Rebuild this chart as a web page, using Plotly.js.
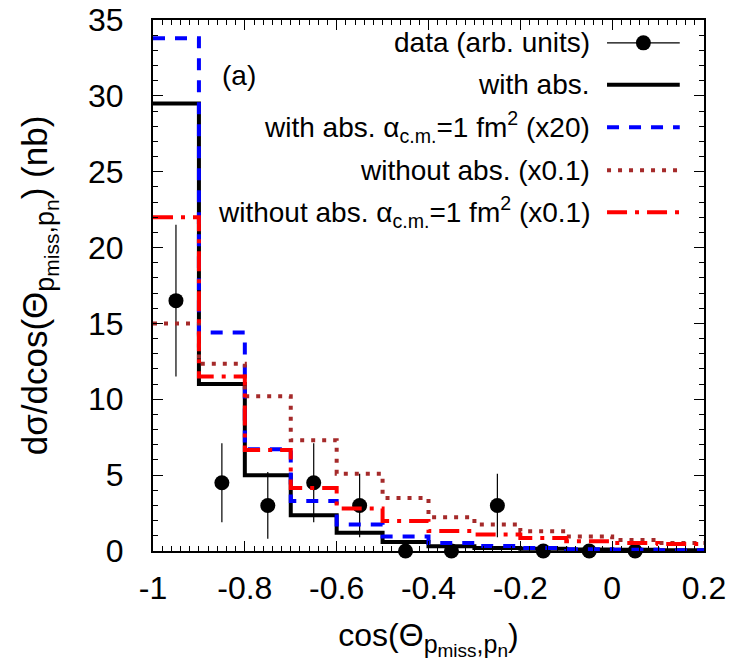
<!DOCTYPE html>
<html>
<head>
<meta charset="utf-8">
<script src="https://cdn.plot.ly/plotly-3.0.1.min.js"></script>
<style>body{margin:0;background:#fff}#chart{width:736px;height:669px}</style>
</head>
<body>
<div id="chart"></div>
<script>
// Bin edges of the histogram (cos theta)
const binEdges = [-1.0, -0.9, -0.8, -0.7, -0.6, -0.5, -0.4, -0.3, -0.2, -0.1, 0.0, 0.1, 0.2];
// Model curves (nb), one value per bin
const withAbs        = [29.5, 11.0, 5.0, 2.35, 1.2, 0.6, 0.32, 0.2, 0.15, 0.1, 0.08, 0.05];
const withAbsAlpha   = [33.8, 14.4, 6.7, 3.3, 1.75, 0.95, 0.53, 0.33, 0.2, 0.11, 0.08, 0.05];
const withoutAbs     = [15.0, 12.35, 10.2, 7.3, 5.1, 3.5, 2.22, 1.74, 1.3, 0.95, 0.73, 0.53];
const withoutAbsAlpha= [22.0, 11.5, 6.65, 4.15, 2.8, 1.97, 1.32, 1.08, 0.86, 0.64, 0.53, 0.46];
// Data points
const dataX   = [-0.95, -0.85, -0.75, -0.65, -0.55, -0.45, -0.35, -0.25, -0.15, -0.05, 0.05];
const dataY   = [16.5, 4.5, 3.0, 4.5, 3.0, 0.0, 0.0, 3.0, 0.0, 0.0, 0.0];
const dataErr = [5.0, 2.6, 2.2, 2.6, 2.1, 0.0, 0.0, 2.1, 0.0, 0.0, 0.0];

const xTicks = [-1, -0.8, -0.6, -0.4, -0.2, 0, 0.2];
const xTickText = ['-1', '-0.8', '-0.6', '-0.4', '-0.2', '0', '0.2'];
const yTicks = [0, 5, 10, 15, 20, 25, 30, 35];

function steps(vals) { return vals.concat([vals[vals.length - 1]]); }

const FONT = 'Liberation Sans, Arial, sans-serif';

const traces = [
  { x: dataX, y: dataY, type: 'scatter', mode: 'markers',
    marker: { color: 'black', size: 15 },
    error_y: { type: 'data', array: dataErr, visible: true, color: 'black', thickness: 1.2, width: 0 },
    showlegend: false, cliponaxis: false },
  { x: binEdges, y: steps(withAbs), type: 'scatter', mode: 'lines',
    line: { shape: 'hv', color: 'black', width: 4 }, showlegend: false },
  { x: binEdges, y: steps(withAbsAlpha), type: 'scatter', mode: 'lines',
    line: { shape: 'hv', color: '#0000ff', width: 4, dash: '12px,10px' }, showlegend: false },
  { x: binEdges, y: steps(withoutAbs), type: 'scatter', mode: 'lines',
    line: { shape: 'hv', color: '#a52a2a', width: 4, dash: '4px,7px' }, showlegend: false },
  { x: binEdges, y: steps(withoutAbsAlpha), type: 'scatter', mode: 'lines',
    line: { shape: 'hv', color: '#ff0000', width: 4, dash: '20px,8px,4px,8px' }, showlegend: false }
];

const legText = [
  'data (arb. units)',
  'with abs.',
  'with abs. α<sub>c.m.</sub>=1 fm<sup>2</sup> (x20)',
  'without abs. (x0.1)',
  'without abs. α<sub>c.m.</sub>=1 fm<sup>2</sup> (x0.1)'
];
const legY = [0.957, 0.878, 0.798, 0.717, 0.638];
const legStyle = [
  { color: 'black', width: 1.2, dash: 'solid' },
  { color: 'black', width: 4, dash: 'solid' },
  { color: '#0000ff', width: 4, dash: '12px,10px' },
  { color: '#a52a2a', width: 4, dash: '4px,7px' },
  { color: '#ff0000', width: 4, dash: '20px,8px,4px,8px' }
];

const annotations = legText.map((t, i) => ({
  text: t, xref: 'paper', yref: 'paper', x: 0.797, y: legY[i],
  xanchor: 'right', yanchor: 'middle', showarrow: false,
  font: { family: FONT, size: 28, color: 'black' }
}));
annotations.push({
  text: '(a)', xref: 'paper', yref: 'paper', x: 0.122, y: 0.896,
  xanchor: 'left', yanchor: 'middle', showarrow: false,
  font: { family: FONT, size: 28, color: 'black' }
});

const shapes = legStyle.map((s, i) => ({
  type: 'line', xref: 'paper', yref: 'paper', x0: 0.824, x1: 0.956, y0: legY[i], y1: legY[i],
  line: { color: s.color, width: s.width, dash: s.dash }
}));
shapes.push({
  type: 'circle', xref: 'paper', yref: 'paper', xsizemode: 'pixel', ysizemode: 'pixel',
  xanchor: 0.89, yanchor: legY[0], x0: -7.5, x1: 7.5, y0: -7.5, y1: 7.5,
  fillcolor: 'black', line: { color: 'black', width: 0 }
});

function thetaSub(big, small) {
  return '<sub><span style="font-size:' + big + 'px">p</span><sub><span style="font-size:' + small + 'px">miss</span></sub>' +
         '<span style="font-size:' + big + 'px">,p</span><sub><span style="font-size:' + small + 'px">n</span></sub></sub>';
}

const layout = {
  width: 736, height: 669,
  margin: { l: 153, r: 32, t: 20, b: 118 },
  paper_bgcolor: 'white', plot_bgcolor: 'white',
  font: { family: FONT, size: 32, color: 'black' },
  showlegend: false,
  xaxis: {
    range: [-1, 0.2], tickvals: xTicks, ticktext: xTickText,
    ticks: 'inside', ticklen: 10, tickwidth: 1, tickcolor: 'black',
    minor: { dtick: 0.02, tick0: -1, ticks: 'inside', ticklen: 5, tickcolor: 'black', tickwidth: 1 },
    showline: true, linecolor: 'black', linewidth: 2, mirror: 'ticks',
    showgrid: false, zeroline: false,
    ticklabelstandoff: 8,
    tickfont: { family: FONT, size: 32 },
    title: { text: 'cos(Θ' + thetaSub(25, 19) + ')', font: { family: FONT, size: 32 }, standoff: 18 }
  },
  yaxis: {
    range: [0, 35], tickvals: yTicks,
    ticks: 'inside', ticklen: 10, tickwidth: 1, tickcolor: 'black',
    minor: { dtick: 1, tick0: 0, ticks: 'inside', ticklen: 5, tickcolor: 'black', tickwidth: 1 },
    showline: true, linecolor: 'black', linewidth: 2, mirror: 'ticks',
    showgrid: false, zeroline: false,
    ticklabelstandoff: 21,
    tickfont: { family: FONT, size: 32 },
    title: { text: 'dσ/dcos(Θ' + thetaSub(27, 21) + ') (nb)', font: { family: FONT, size: 35 }, standoff: 30 }
  },
  annotations: annotations,
  shapes: shapes
};

Plotly.newPlot('chart', traces, layout, { displayModeBar: false, staticPlot: true });
</script>
</body>
</html>
